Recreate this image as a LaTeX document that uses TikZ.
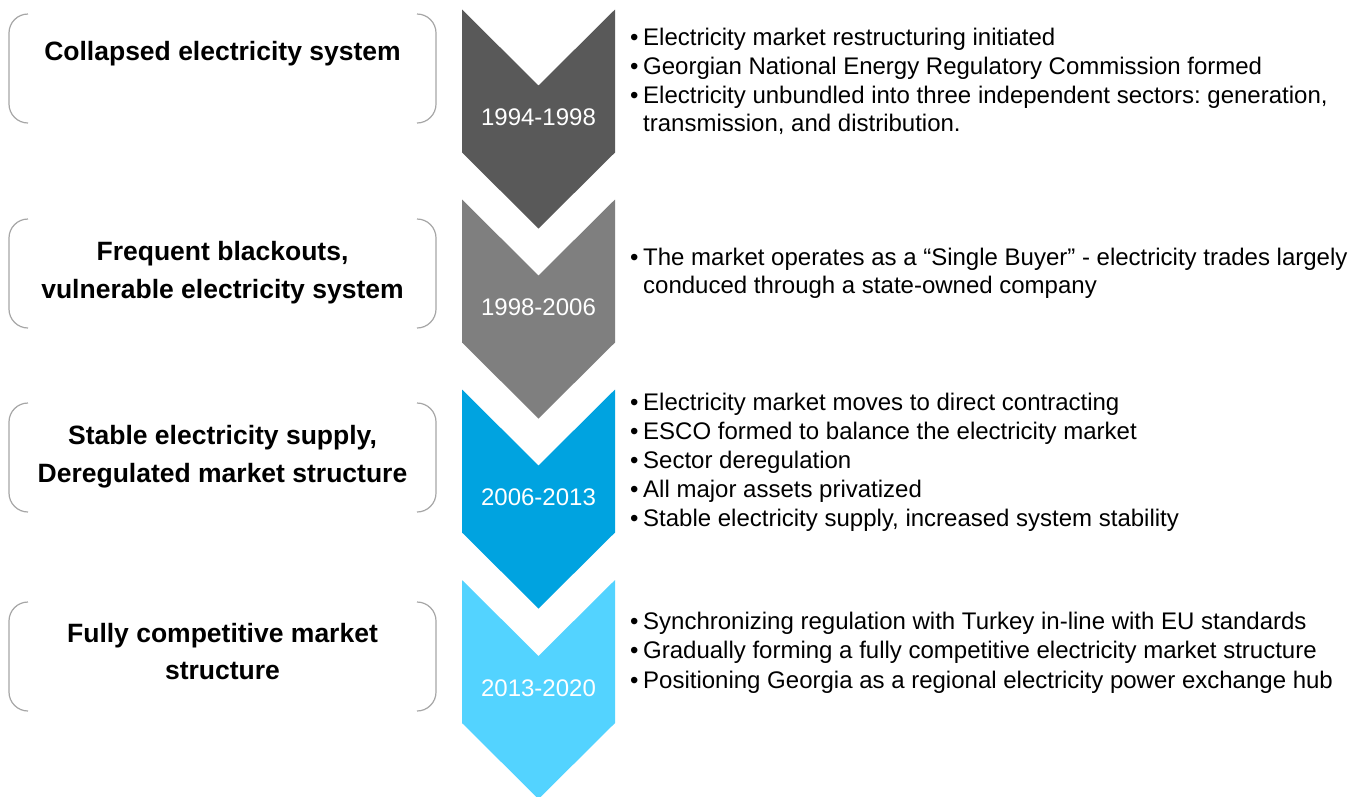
\documentclass[tikz,border=0pt]{standalone}
\usepackage{fontspec}
\setmainfont{Liberation Sans}

\definecolor{stageA}{HTML}{595959}
\definecolor{stageB}{HTML}{7F7F7F}
\definecolor{stageC}{HTML}{00A3E0}
\definecolor{stageD}{HTML}{53D3FF}
\definecolor{bracketgray}{HTML}{A6A6A6}

% chevron of one period: #1 = top edge (y grows downwards), #2 = fill colour
\newcommand\periodchevron[2]{%
  \fill[#2] (462,#1) -- (538.5,{#1+76}) -- (615,#1) -- (615,{#1+143})
    -- (538.5,{#1+219}) -- (462,{#1+143}) -- cycle;}
% bracket pair framing a situation label: #1 = top, #2 = bottom
\newcommand\situationbrackets[2]{%
  \draw[brk] (28,#1) -- (9,#1) -- (9,#2) -- (28,#2);
  \draw[brk] (417,#1) -- (436,#1) -- (436,#2) -- (417,#2);}
% bulleted line and continuation line of the right-hand notes
\newcommand\bulletline[3]{%
  \node[note] (#2b) at (630,#1) {\textbullet};
  \node[note] (#2) at (643,#1) {#3};}
\newcommand\contline[3]{%
  \node[note] (#2) at (643,#1) {#3};}

\begin{document}
\frenchspacing
\begin{tikzpicture}[x=1pt,y=-1pt,
  brk/.style={draw=bracketgray, line width=1.2pt, rounded corners=19pt},
  situation/.style={anchor=base, inner sep=0pt, font=\bfseries\fontsize{26.5}{38}\selectfont},
  year/.style={anchor=center, inner sep=0pt, text=white, font=\fontsize{24}{29}\selectfont},
  note/.style={anchor=base west, inner sep=0pt, font=\fontsize{24}{29}\selectfont}]
\useasboundingbox[fill=white] (0,0) rectangle (1362,796);

% timeline chevrons
\periodchevron{9.5}{stageA}
\periodchevron{199.5}{stageB}
\periodchevron{389.5}{stageC}
\periodchevron{580}{stageD}

\node[year] (y1) at (538.5,117) {1994-1998};
\node[year] (y2) at (538.5,307) {1998-2006};
\node[year] (y3) at (538.5,497) {2006-2013};
\node[year] (y4) at (538.5,688) {2013-2020};

% situation labels on the left
\situationbrackets{14}{123}
\situationbrackets{219}{328}
\situationbrackets{403}{512}
\situationbrackets{602}{711}

\node[situation] (s1) at (222.5,60) {Collapsed electricity system};
\node[situation] (s2a) at (222.5,260) {Frequent blackouts,};
\node[situation] (s2b) at (222.5,298) {vulnerable electricity system};
\node[situation] (s3a) at (222.5,444) {Stable electricity supply,};
\node[situation] (s3b) at (222.5,482) {Deregulated market structure};
\node[situation] (s4a) at (222.5,642) {Fully competitive market};
\node[situation] (s4b) at (222.5,679) {structure};

% notes on the right
\bulletline{45}{n1a}{Electricity market restructuring initiated}
\bulletline{74}{n1b}{Georgian National Energy Regulatory Commission formed}
\bulletline{103}{n1c}{Electricity unbundled into three independent sectors: generation,}
\contline{131}{n1d}{transmission, and distribution.}

\bulletline{265}{n2a}{The market operates as a “Single Buyer” - electricity trades largely}
\contline{293}{n2b}{conduced through a state-owned company}

\bulletline{410}{n3a}{Electricity market moves to direct contracting}
\bulletline{439}{n3b}{ESCO formed to balance the electricity market}
\bulletline{468}{n3c}{Sector deregulation}
\bulletline{497}{n3d}{All major assets privatized}
\bulletline{526}{n3e}{Stable electricity supply, increased system stability}

\bulletline{629}{n4a}{Synchronizing regulation with Turkey in-line with EU standards}
\bulletline{658}{n4b}{Gradually forming a fully competitive electricity market structure}
\bulletline{688}{n4c}{Positioning Georgia as a regional electricity power exchange hub}
\end{tikzpicture}
\end{document}
